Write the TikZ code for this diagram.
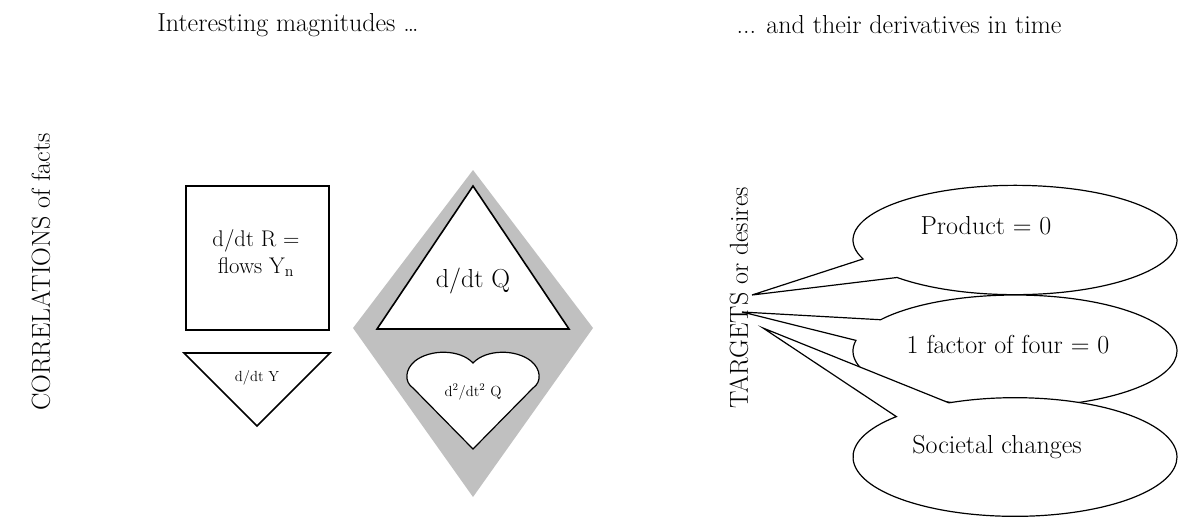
\documentclass[tikz,border=0pt]{standalone}
\usepackage{fontspec}
\usepackage{tikz}
\usetikzlibrary{shapes.callouts}
\definecolor{diamondgray}{RGB}{192,192,192}
\tikzset{
  txt/.style = {font=\fontsize{19.5}{22}\selectfont, inner sep=1pt},
  boxtxt/.style = {font=\fontsize{17}{20.5}\selectfont, inner sep=1pt},
  smalltxt/.style = {font=\fontsize{11}{13}\selectfont, inner sep=1pt},
  bubble/.style = {ellipse callout, draw, line width=0.9pt, fill=white,
    inner sep=0pt, outer sep=0pt, minimum width=243pt, callout pointer arc=23}
}

\begin{document}
\begin{tikzpicture}[x=0.75pt,y=-0.75pt]
  \useasboundingbox (0,0) rectangle (1184,519);

  % headings
  \node[txt] (magn) at (288,25) {Interesting magnitudes \dots};
  \node[txt] (deriv) at (899,25) {... and their derivatives in time};
  \node[txt, rotate=90] (corr) at (41,272) {CORRELATIONS of facts};
  \node[txt, rotate=90] (targ) at (739,298) {TARGETS or desires};

  % square and triangle
  \draw[line width=1.5pt] (186,186) rectangle (329,330);
  \node[boxtxt, align=center] (flows) at (256,253) {d/dt R =\\flows Y\textsubscript{n}};
  \draw[line width=1.2pt] (184,353) -- (330,353) -- (257,426) -- cycle;
  \node[smalltxt] (dy) at (257,378) {d/dt Y};

  % diamond with triangle and heart
  \fill[diamondgray] (473,170) -- (593,328) -- (473,497) -- (353,328) -- cycle;
  \draw[line width=1.2pt, fill=white] (473,186) -- (569,329) -- (377,329) -- cycle;
  \node[txt] (dq) at (473,281) {d/dt Q};
  \draw[line width=0.9pt, fill=white] (473,363)
    .. controls (460,349) and (430,349) .. (415,361)
    .. controls (405,369) and (404,382) .. (413,388)
    -- (473,449) -- (533,388)
    .. controls (542,382) and (541,369) .. (531,361)
    .. controls (516,349) and (486,349) .. (473,363) -- cycle;
  \node[smalltxt] (ddq) at (473,392) {d\textsuperscript{2}/dt\textsuperscript{2} Q};

  % targets
  \coordinate (tipA) at (752,295);
  \coordinate (tipB) at (742,312);
  \coordinate (tipC) at (763,328);
  \node[bubble, minimum height=82pt, callout absolute pointer={(tipA)}] (prod) at (1015,240) {};
  \node[txt] (prodtxt) at (986,226) {Product = 0};
  \node[bubble, minimum height=84pt, callout absolute pointer={(tipB)}] (factor) at (1015,351) {};
  \node[txt] (factortxt) at (1008,345) {1 factor of four = 0};
  \node[bubble, minimum height=89pt, callout absolute pointer={(tipC)}] (soc) at (1015,457) {};
  \node[txt] (soctxt) at (997,447) {Societal changes};
\end{tikzpicture}
\end{document}
